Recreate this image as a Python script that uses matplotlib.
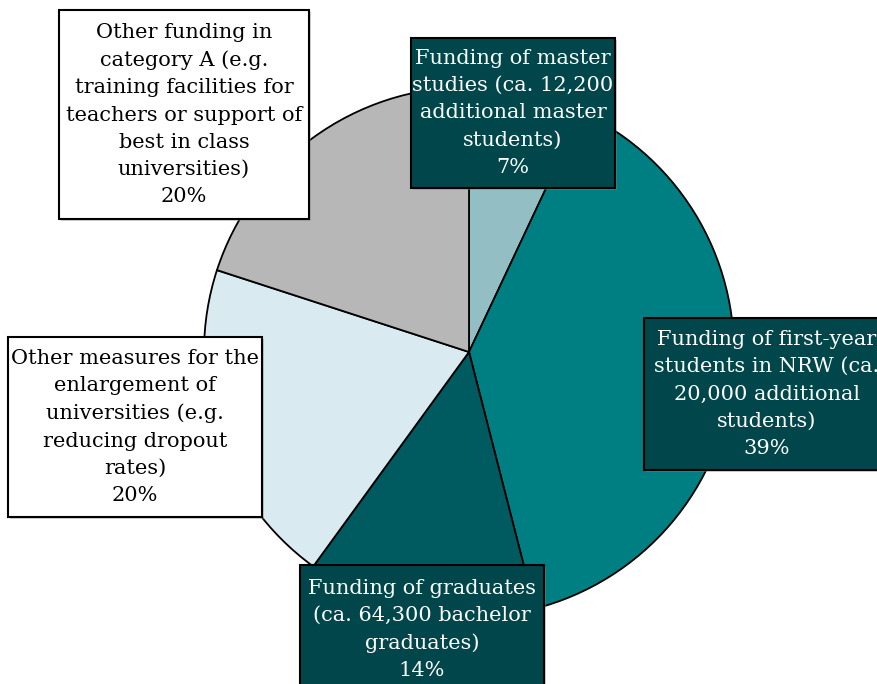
import matplotlib.pyplot as plt
from matplotlib.patches import Rectangle

# shares of the budget, clockwise from 12 o'clock
labels = [
    "Funding of master\nstudies (ca. 12,200\nadditional master\nstudents)",
    "Funding of first-year\nstudents in NRW (ca.\n20,000 additional\nstudents)",
    "Funding of graduates\n(ca. 64,300 bachelor\ngraduates)",
    "Other measures for the\nenlargement of\nuniversities (e.g.\nreducing dropout\nrates)",
    "Other funding in\ncategory A (e.g.\ntraining facilities for\nteachers or support of\nbest in class\nuniversities)",
]
shares = [7, 39, 14, 20, 20]
colors = ["#93bfc4", "#007f83", "#005b61", "#d9eaf0", "#b7b7b7"]

W, H = 877, 684
fig = plt.figure(figsize=(W / 100, H / 100), dpi=100)
fig.patch.set_facecolor("white")

# pie centred at (469, 352) px, radius 265 px
cx, cy, r = 469, 352, 265
ax = fig.add_axes([(cx - r) / W, (H - cy - r) / H, 2 * r / W, 2 * r / H])
ax.pie(shares, colors=colors, startangle=90, counterclock=False, radius=1,
       wedgeprops=dict(edgecolor="black", linewidth=1.3))
ax.set_xlim(-1, 1)
ax.set_ylim(-1, 1)
ax.set_aspect("equal")
ax.axis("off")

# label boxes: (left, top, right, bottom) in px, fill, text colour
boxes = [
    ((411, 38, 615, 188), "#00464a", "white"),
    ((644, 318, 890, 470), "#00464a", "white"),
    ((300, 565, 544, 694), "#00464a", "white"),
    ((8, 337, 262, 517), "white", "black"),
    ((59, 10, 309, 219), "white", "black"),
]

for (box, fc, tc), lab, v in zip(boxes, labels, shares):
    l, t, rgt, b = box
    # soft shadow
    fig.patches.append(Rectangle(((l + 2) / W, (H - b - 2) / H), (rgt - l) / W, (b - t) / H,
                                 transform=fig.transFigure, facecolor="#8a8a8a",
                                 edgecolor="none", alpha=0.4, zorder=5))
    fig.patches.append(Rectangle((l / W, (H - b) / H), (rgt - l) / W, (b - t) / H,
                                 transform=fig.transFigure, facecolor=fc,
                                 edgecolor="black", linewidth=1.5, zorder=6))
    txt = lab + "\n" + f"{v}%"
    fig.text((l + rgt) / 2 / W, (H - (t + b) / 2) / H, txt,
             ha="center", va="center", ma="center", color=tc,
             fontsize=15, family="DejaVu Serif", linespacing=1.55, zorder=7)

fig.savefig("out.png", dpi=100)
